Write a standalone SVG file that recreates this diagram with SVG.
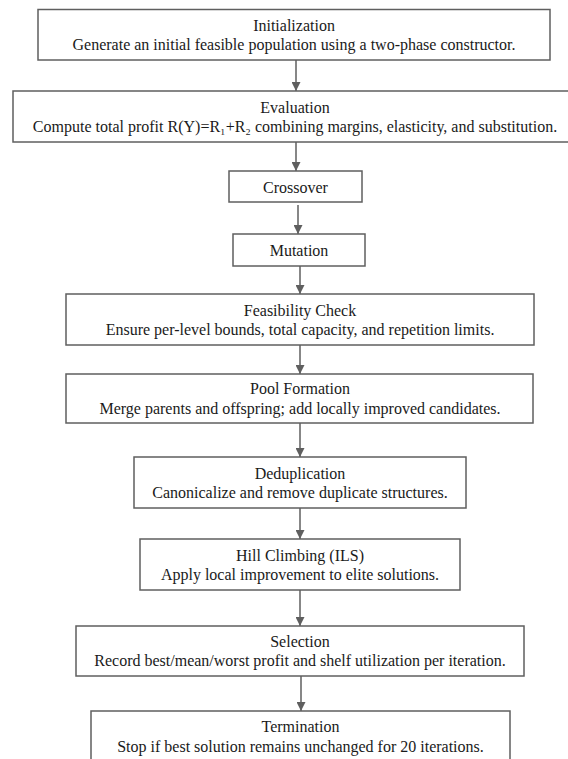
<svg xmlns="http://www.w3.org/2000/svg" width="568" height="759" viewBox="0 0 568 759">
<style>
.box{fill:#ffffff;stroke:#5f5f5f;stroke-width:1.5}
.t{font-family:"Liberation Serif","Times New Roman",serif;font-size:16px;fill:#1a1a1a;text-anchor:middle}
.c{stroke:#5f5f5f;stroke-width:1.5;fill:none;marker-end:url(#ah)}
</style>
<defs>
<marker id="ah" markerUnits="userSpaceOnUse" markerWidth="9" markerHeight="9" refX="9" refY="4.5" orient="auto">
<path d="M0,0 L9,4.5 L0,9 z" fill="#5f5f5f"/>
</marker>
</defs>
<rect width="568" height="759" fill="#ffffff"/>
<g id="connectors">
<line class="c" x1="296" y1="60" x2="296" y2="91"/>
<line class="c" x1="296" y1="142" x2="296" y2="171"/>
<line class="c" x1="298" y1="205" x2="298" y2="234"/>
<line class="c" x1="300" y1="266" x2="300" y2="294"/>
<line class="c" x1="300" y1="345" x2="300" y2="374"/>
<line class="c" x1="300" y1="423" x2="300" y2="457"/>
<line class="c" x1="300" y1="508" x2="300" y2="539"/>
<line class="c" x1="300" y1="590" x2="300" y2="626"/>
<line class="c" x1="301" y1="676" x2="301" y2="711"/>
</g>
<g id="initialization">
<rect class="box" x="38" y="9.5" width="512" height="50.5"/>
<text class="t" x="294" y="31">Initialization</text>
<text class="t" x="294" y="50">Generate an initial feasible population using a two-phase constructor.</text>
</g>
<g id="evaluation">
<rect class="box" x="13" y="91" width="564" height="51"/>
<text class="t" x="295" y="113">Evaluation</text>
<text class="t" x="295" y="132">Compute total profit R(Y)=R₁+R₂ combining margins, elasticity, and substitution.</text>
</g>
<g id="crossover">
<rect class="box" x="229" y="171" width="133" height="31"/>
<text class="t" x="295.5" y="193">Crossover</text>
</g>
<g id="mutation">
<rect class="box" x="233" y="234" width="132" height="32"/>
<text class="t" x="299" y="256">Mutation</text>
</g>
<g id="feasibility">
<rect class="box" x="66" y="294" width="468" height="51"/>
<text class="t" x="300" y="316">Feasibility Check</text>
<text class="t" x="300" y="335">Ensure per-level bounds, total capacity, and repetition limits.</text>
</g>
<g id="pool">
<rect class="box" x="66" y="374" width="467" height="49"/>
<text class="t" x="300" y="394">Pool Formation</text>
<text class="t" x="300" y="414">Merge parents and offspring; add locally improved candidates.</text>
</g>
<g id="dedup">
<rect class="box" x="134" y="457" width="332" height="51"/>
<text class="t" x="300" y="479">Deduplication</text>
<text class="t" x="300" y="498">Canonicalize and remove duplicate structures.</text>
</g>
<g id="hill">
<rect class="box" x="140" y="539" width="320" height="51"/>
<text class="t" x="300" y="561">Hill Climbing (ILS)</text>
<text class="t" x="300" y="580">Apply local improvement to elite solutions.</text>
</g>
<g id="selection">
<rect class="box" x="76" y="626" width="448" height="50"/>
<text class="t" x="300" y="647">Selection</text>
<text class="t" x="300" y="666">Record best/mean/worst profit and shelf utilization per iteration.</text>
</g>
<g id="termination">
<rect class="box" x="91" y="711" width="419" height="60"/>
<text class="t" x="300.5" y="732">Termination</text>
<text class="t" x="300.5" y="752">Stop if best solution remains unchanged for 20 iterations.</text>
</g>
</svg>
